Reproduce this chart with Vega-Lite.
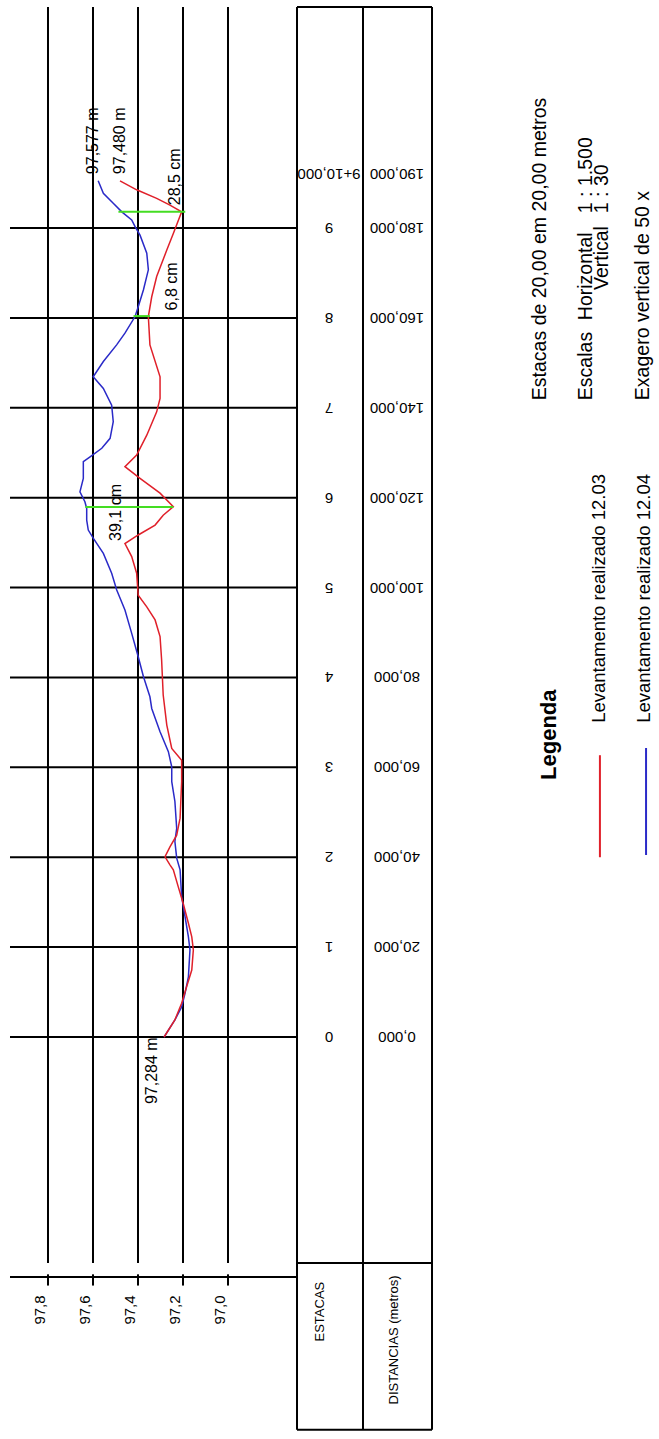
{
  "$schema": "https://vega.github.io/schema/vega-lite/v6.json",
  "width": 659,
  "height": 1439,
  "autosize": {"type": "fit", "contains": "padding"},
  "padding": 0,
  "background": "white",
  "config": {
    "view": {"stroke": null},
    "axis": {"disable": true},
    "text": {"font": "Liberation Sans", "color": "#000"}
  },
  "datasets": {
    "cotas": [
      {"cota": 97.8, "rotulo": "97,8"},
      {"cota": 97.6, "rotulo": "97,6"},
      {"cota": 97.4, "rotulo": "97,4"},
      {"cota": 97.2, "rotulo": "97,2"},
      {"cota": 97.0, "rotulo": "97,0"}
    ],
    "estacas": [
      {"estaca": "0", "dist": 0, "distancia": "0,000"},
      {"estaca": "1", "dist": 20, "distancia": "20,000"},
      {"estaca": "2", "dist": 40, "distancia": "40,000"},
      {"estaca": "3", "dist": 60, "distancia": "60,000"},
      {"estaca": "4", "dist": 80, "distancia": "80,000"},
      {"estaca": "5", "dist": 100, "distancia": "100,000"},
      {"estaca": "6", "dist": 120, "distancia": "120,000"},
      {"estaca": "7", "dist": 140, "distancia": "140,000"},
      {"estaca": "8", "dist": 160, "distancia": "160,000"},
      {"estaca": "9", "dist": 180, "distancia": "180,000"}
    ],
    "final": [
      {"estaca": "9+10,000", "dist": 190, "distancia": "190,000"}
    ],
    "colunas": [{"limite": 96.6933}, {"limite": 96.4}, {"limite": 96.0933}],
    "linhas": [{"limite": 229.2}, {"limite": -50.3}, {"limite": -87.4}],
    "perfil": [
      {"serie": "12.04", "dist": 0, "cota": 97.284},
      {"serie": "12.04", "dist": 3.8, "cota": 97.236},
      {"serie": "12.04", "dist": 6.7, "cota": 97.206},
      {"serie": "12.04", "dist": 9.7, "cota": 97.191},
      {"serie": "12.04", "dist": 13.4, "cota": 97.176},
      {"serie": "12.04", "dist": 19.4, "cota": 97.169},
      {"serie": "12.04", "dist": 22.3, "cota": 97.176},
      {"serie": "12.04", "dist": 26.8, "cota": 97.191},
      {"serie": "12.04", "dist": 31.2, "cota": 97.206},
      {"serie": "12.04", "dist": 37.2, "cota": 97.213},
      {"serie": "12.04", "dist": 39.8, "cota": 97.228},
      {"serie": "12.04", "dist": 43.5, "cota": 97.236},
      {"serie": "12.04", "dist": 46.4, "cota": 97.228},
      {"serie": "12.04", "dist": 52.4, "cota": 97.236},
      {"serie": "12.04", "dist": 56.8, "cota": 97.25},
      {"serie": "12.04", "dist": 60.1, "cota": 97.25},
      {"serie": "12.04", "dist": 63.5, "cota": 97.265},
      {"serie": "12.04", "dist": 67.9, "cota": 97.302},
      {"serie": "12.04", "dist": 73.1, "cota": 97.339},
      {"serie": "12.04", "dist": 75.7, "cota": 97.347},
      {"serie": "12.04", "dist": 80.2, "cota": 97.376},
      {"serie": "12.04", "dist": 84.6, "cota": 97.399},
      {"serie": "12.04", "dist": 89.8, "cota": 97.428},
      {"serie": "12.04", "dist": 95.0, "cota": 97.458},
      {"serie": "12.04", "dist": 99.5, "cota": 97.495},
      {"serie": "12.04", "dist": 103.2, "cota": 97.517},
      {"serie": "12.04", "dist": 107.6, "cota": 97.554},
      {"serie": "12.04", "dist": 111.0, "cota": 97.599},
      {"serie": "12.04", "dist": 112.8, "cota": 97.621},
      {"serie": "12.04", "dist": 115.0, "cota": 97.628},
      {"serie": "12.04", "dist": 117.6, "cota": 97.628},
      {"serie": "12.04", "dist": 119.1, "cota": 97.636},
      {"serie": "12.04", "dist": 121.3, "cota": 97.658},
      {"serie": "12.04", "dist": 124.3, "cota": 97.643},
      {"serie": "12.04", "dist": 128.0, "cota": 97.643},
      {"serie": "12.04", "dist": 129.1, "cota": 97.613},
      {"serie": "12.04", "dist": 131.0, "cota": 97.561},
      {"serie": "12.04", "dist": 133.2, "cota": 97.524},
      {"serie": "12.04", "dist": 136.9, "cota": 97.51},
      {"serie": "12.04", "dist": 140.6, "cota": 97.517},
      {"serie": "12.04", "dist": 144.3, "cota": 97.554},
      {"serie": "12.04", "dist": 146.9, "cota": 97.599},
      {"serie": "12.04", "dist": 150.3, "cota": 97.554},
      {"serie": "12.04", "dist": 154.0, "cota": 97.495},
      {"serie": "12.04", "dist": 156.6, "cota": 97.458},
      {"serie": "12.04", "dist": 160.3, "cota": 97.413},
      {"serie": "12.04", "dist": 162.5, "cota": 97.399},
      {"serie": "12.04", "dist": 166.2, "cota": 97.376},
      {"serie": "12.04", "dist": 170.7, "cota": 97.354},
      {"serie": "12.04", "dist": 174.4, "cota": 97.361},
      {"serie": "12.04", "dist": 178.4, "cota": 97.391},
      {"serie": "12.04", "dist": 180.3, "cota": 97.413},
      {"serie": "12.04", "dist": 181.8, "cota": 97.428},
      {"serie": "12.04", "dist": 183.6, "cota": 97.472},
      {"serie": "12.04", "dist": 185.5, "cota": 97.51},
      {"serie": "12.04", "dist": 187.7, "cota": 97.554},
      {"serie": "12.04", "dist": 190.5, "cota": 97.577},
      {"serie": "12.03", "dist": 0, "cota": 97.284},
      {"serie": "12.03", "dist": 3.8, "cota": 97.236},
      {"serie": "12.03", "dist": 7.5, "cota": 97.206},
      {"serie": "12.03", "dist": 11.2, "cota": 97.184},
      {"serie": "12.03", "dist": 14.9, "cota": 97.161},
      {"serie": "12.03", "dist": 19.4, "cota": 97.154},
      {"serie": "12.03", "dist": 22.3, "cota": 97.161},
      {"serie": "12.03", "dist": 25.3, "cota": 97.176},
      {"serie": "12.03", "dist": 29.7, "cota": 97.199},
      {"serie": "12.03", "dist": 33.4, "cota": 97.221},
      {"serie": "12.03", "dist": 37.2, "cota": 97.243},
      {"serie": "12.03", "dist": 38.3, "cota": 97.258},
      {"serie": "12.03", "dist": 40.1, "cota": 97.28},
      {"serie": "12.03", "dist": 42.3, "cota": 97.258},
      {"serie": "12.03", "dist": 44.9, "cota": 97.228},
      {"serie": "12.03", "dist": 48.7, "cota": 97.213},
      {"serie": "12.03", "dist": 56.8, "cota": 97.206},
      {"serie": "12.03", "dist": 61.6, "cota": 97.206},
      {"serie": "12.03", "dist": 64.2, "cota": 97.25},
      {"serie": "12.03", "dist": 69.4, "cota": 97.272},
      {"serie": "12.03", "dist": 76.1, "cota": 97.288},
      {"serie": "12.03", "dist": 83.9, "cota": 97.295},
      {"serie": "12.03", "dist": 89.1, "cota": 97.302},
      {"serie": "12.03", "dist": 92.8, "cota": 97.324},
      {"serie": "12.03", "dist": 95.7, "cota": 97.361},
      {"serie": "12.03", "dist": 98.3, "cota": 97.399},
      {"serie": "12.03", "dist": 103.2, "cota": 97.406},
      {"serie": "12.03", "dist": 106.9, "cota": 97.428},
      {"serie": "12.03", "dist": 109.8, "cota": 97.458},
      {"serie": "12.03", "dist": 111.7, "cota": 97.399},
      {"serie": "12.03", "dist": 113.9, "cota": 97.324},
      {"serie": "12.03", "dist": 116.1, "cota": 97.288},
      {"serie": "12.03", "dist": 118.0, "cota": 97.243},
      {"serie": "12.03", "dist": 121.0, "cota": 97.302},
      {"serie": "12.03", "dist": 124.3, "cota": 97.391},
      {"serie": "12.03", "dist": 126.9, "cota": 97.458},
      {"serie": "12.03", "dist": 129.5, "cota": 97.406},
      {"serie": "12.03", "dist": 133.9, "cota": 97.361},
      {"serie": "12.03", "dist": 139.1, "cota": 97.317},
      {"serie": "12.03", "dist": 142.1, "cota": 97.302},
      {"serie": "12.03", "dist": 146.9, "cota": 97.302},
      {"serie": "12.03", "dist": 154.0, "cota": 97.347},
      {"serie": "12.03", "dist": 160.3, "cota": 97.354},
      {"serie": "12.03", "dist": 164.7, "cota": 97.339},
      {"serie": "12.03", "dist": 169.2, "cota": 97.317},
      {"serie": "12.03", "dist": 175.1, "cota": 97.272},
      {"serie": "12.03", "dist": 178.8, "cota": 97.243},
      {"serie": "12.03", "dist": 183.6, "cota": 97.206},
      {"serie": "12.03", "dist": 185.1, "cota": 97.258},
      {"serie": "12.03", "dist": 186.6, "cota": 97.317},
      {"serie": "12.03", "dist": 188.5, "cota": 97.406},
      {"serie": "12.03", "dist": 190.5, "cota": 97.48}
    ],
    "diferencas": [
      {"dist": 183.6, "cota1": 97.487, "cota2": 97.19},
      {"dist": 160.4, "cota1": 97.42, "cota2": 97.347},
      {"dist": 117.9, "cota1": 97.634, "cota2": 97.243}
    ],
    "rotulos": [
      {"texto": "97,577 m", "cota": 97.598, "dist": 199.4},
      {"texto": "97,480 m", "cota": 97.482, "dist": 199.4},
      {"texto": "28,5 cm", "cota": 97.234, "dist": 191.4},
      {"texto": "6,8 cm", "cota": 97.249, "dist": 167.0},
      {"texto": "39,1 cm", "cota": 97.496, "dist": 116.7},
      {"texto": "97,284 m", "cota": 97.336, "dist": -7.5}
    ],
    "notas": [
      {"texto": "Estacas de 20,00 em 20,00 metros", "cota": 95.6133, "dist": 141.7},
      {"texto": "Escalas", "cota": 95.409, "dist": 141.7},
      {"texto": "Horizontal", "cota": 95.409, "dist": 159.5},
      {"texto": "1 : 1.500", "cota": 95.409, "dist": 183.3},
      {"texto": "Vertical", "cota": 95.336, "dist": 166.2},
      {"texto": "1 : 30", "cota": 95.336, "dist": 183.3},
      {"texto": "Exagero vertical de 50 x", "cota": 95.156, "dist": 141.7}
    ],
    "legenda": [
      {"texto": "Levantamento realizado 12.03", "cota": 95.353, "dist": 69.9},
      {"texto": "Levantamento realizado 12.04", "cota": 95.151, "dist": 69.9}
    ]
  },
  "layer": [
    {
      "data": {"name": "cotas"},
      "mark": {"type": "rule", "stroke": "#000", "strokeWidth": 2},
      "encoding": {
        "x": {"field": "cota", "type": "quantitative", "axis": null,
              "scale": {"domain": [95.08444, 98.01333], "reverse": true, "nice": false, "zero": false}},
        "y": {"datum": 229.2, "type": "quantitative", "axis": null,
              "scale": {"domain": [-89.44, 230.73], "nice": false, "zero": false}},
        "y2": {"datum": -50.3}
      }
    },
    {
      "data": {"name": "cotas"},
      "mark": {"type": "rule", "stroke": "#000", "strokeWidth": 2},
      "encoding": {
        "x": {"field": "cota", "type": "quantitative"},
        "y": {"datum": -52.8, "type": "quantitative"},
        "y2": {"datum": -55.3}
      }
    },
    {
      "data": {"name": "cotas"},
      "mark": {"type": "text", "angle": 270, "align": "center", "baseline": "bottom", "fontSize": 15},
      "encoding": {
        "x": {"field": "cota", "type": "quantitative"},
        "y": {"datum": -60.74, "type": "quantitative"},
        "text": {"field": "rotulo"}
      }
    },
    {
      "data": {"values": [{}]},
      "mark": {"type": "rule", "stroke": "#000", "strokeWidth": 2},
      "encoding": {
        "x": {"datum": 97.9689, "type": "quantitative"},
        "x2": {"datum": 96.6933},
        "y": {"datum": -53.4, "type": "quantitative"}
      }
    },
    {
      "data": {"name": "estacas"},
      "mark": {"type": "rule", "stroke": "#000", "strokeWidth": 2},
      "encoding": {
        "x": {"datum": 97.9689, "type": "quantitative"},
        "x2": {"datum": 96.6933},
        "y": {"field": "dist", "type": "quantitative"}
      }
    },
    {
      "data": {"name": "colunas"},
      "mark": {"type": "rule", "stroke": "#000", "strokeWidth": 2},
      "encoding": {
        "x": {"field": "limite", "type": "quantitative"},
        "y": {"datum": 229.2, "type": "quantitative"},
        "y2": {"datum": -87.4}
      }
    },
    {
      "data": {"name": "linhas"},
      "mark": {"type": "rule", "stroke": "#000", "strokeWidth": 2},
      "encoding": {
        "x": {"datum": 96.6933, "type": "quantitative"},
        "x2": {"datum": 96.0933},
        "y": {"field": "limite", "type": "quantitative"}
      }
    },
    {
      "data": {"name": "estacas"},
      "mark": {"type": "text", "angle": 180, "align": "center", "baseline": "middle", "fontSize": 15},
      "encoding": {
        "x": {"datum": 96.551, "type": "quantitative"},
        "y": {"field": "dist", "type": "quantitative"},
        "text": {"field": "estaca"}
      }
    },
    {
      "data": {"name": "estacas"},
      "mark": {"type": "text", "angle": 180, "align": "center", "baseline": "middle", "fontSize": 15},
      "encoding": {
        "x": {"datum": 96.249, "type": "quantitative"},
        "y": {"field": "dist", "type": "quantitative"},
        "text": {"field": "distancia"}
      }
    },
    {
      "data": {"name": "final"},
      "mark": {"type": "text", "angle": 180, "align": "center", "baseline": "middle", "fontSize": 15, "dy": 9},
      "encoding": {
        "x": {"datum": 96.551, "type": "quantitative"},
        "y": {"field": "dist", "type": "quantitative"},
        "text": {"field": "estaca"}
      }
    },
    {
      "data": {"name": "final"},
      "mark": {"type": "text", "angle": 180, "align": "center", "baseline": "middle", "fontSize": 15, "dy": 9},
      "encoding": {
        "x": {"datum": 96.249, "type": "quantitative"},
        "y": {"field": "dist", "type": "quantitative"},
        "text": {"field": "distancia"}
      }
    },
    {
      "data": {"values": [{"texto": "ESTACAS"}]},
      "mark": {"type": "text", "angle": 270, "align": "center", "baseline": "middle", "fontSize": 13},
      "encoding": {
        "x": {"datum": 96.591, "type": "quantitative"},
        "y": {"datum": -61.1, "type": "quantitative"},
        "text": {"field": "texto"}
      }
    },
    {
      "data": {"values": [{"texto": "DISTANCIAS (metros)"}]},
      "mark": {"type": "text", "angle": 270, "align": "center", "baseline": "middle", "fontSize": 13},
      "encoding": {
        "x": {"datum": 96.262, "type": "quantitative"},
        "y": {"datum": -67.4, "type": "quantitative"},
        "text": {"field": "texto"}
      }
    },
    {
      "data": {"name": "perfil"},
      "mark": {"type": "line", "strokeWidth": 1.5},
      "encoding": {
        "x": {"field": "cota", "type": "quantitative"},
        "y": {"field": "dist", "type": "quantitative"},
        "order": {"field": "dist", "type": "quantitative"},
        "color": {"field": "serie", "type": "nominal", "legend": null,
                  "scale": {"domain": ["12.03", "12.04"], "range": ["#e0202a", "#2a2ac8"]}}
      }
    },
    {
      "data": {"name": "diferencas"},
      "mark": {"type": "rule", "stroke": "#44dd22", "strokeWidth": 2},
      "encoding": {
        "x": {"field": "cota1", "type": "quantitative"},
        "x2": {"field": "cota2"},
        "y": {"field": "dist", "type": "quantitative"}
      }
    },
    {
      "data": {"name": "rotulos"},
      "mark": {"type": "text", "angle": 270, "align": "center", "baseline": "middle", "fontSize": 16},
      "encoding": {
        "x": {"field": "cota", "type": "quantitative"},
        "y": {"field": "dist", "type": "quantitative"},
        "text": {"field": "texto"}
      }
    },
    {
      "data": {"name": "notas"},
      "mark": {"type": "text", "angle": 270, "align": "left", "baseline": "middle", "fontSize": 19.5},
      "encoding": {
        "x": {"field": "cota", "type": "quantitative"},
        "y": {"field": "dist", "type": "quantitative"},
        "text": {"field": "texto"}
      }
    },
    {
      "data": {"values": [{"texto": "Legenda"}]},
      "mark": {"type": "text", "angle": 270, "align": "left", "baseline": "middle", "fontSize": 22, "fontWeight": "bold"},
      "encoding": {
        "x": {"datum": 95.573, "type": "quantitative"},
        "y": {"datum": 57.2, "type": "quantitative"},
        "text": {"field": "texto"}
      }
    },
    {
      "data": {"name": "legenda"},
      "mark": {"type": "text", "angle": 270, "align": "left", "baseline": "middle", "fontSize": 18.5},
      "encoding": {
        "x": {"field": "cota", "type": "quantitative"},
        "y": {"field": "dist", "type": "quantitative"},
        "text": {"field": "texto"}
      }
    },
    {
      "data": {"values": [{}]},
      "mark": {"type": "rule", "stroke": "#e0202a", "strokeWidth": 2},
      "encoding": {
        "x": {"datum": 95.347, "type": "quantitative"},
        "y": {"datum": 40.0, "type": "quantitative"},
        "y2": {"datum": 62.7}
      }
    },
    {
      "data": {"values": [{}]},
      "mark": {"type": "rule", "stroke": "#2a2ac8", "strokeWidth": 2},
      "encoding": {
        "x": {"datum": 95.142, "type": "quantitative"},
        "y": {"datum": 40.5, "type": "quantitative"},
        "y2": {"datum": 64.3}
      }
    }
  ]
}
